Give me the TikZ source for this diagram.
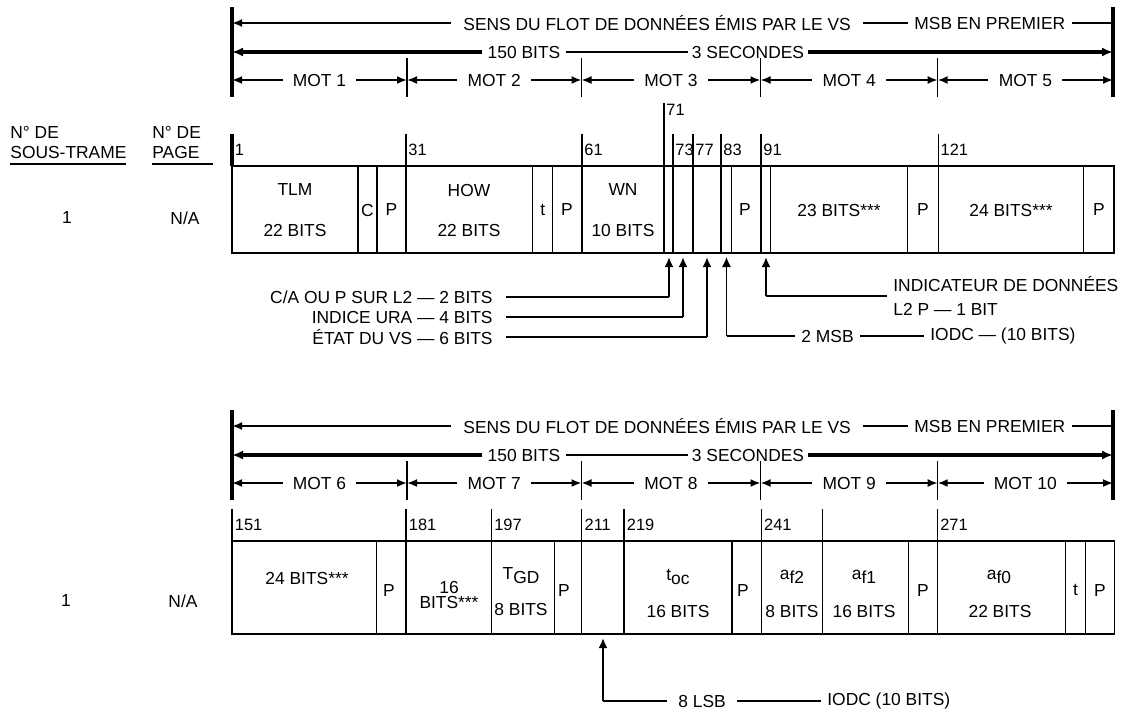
\documentclass[tikz,border=0pt]{standalone}
\usepackage{fontspec}
\setmainfont{Liberation Sans}
\usetikzlibrary{arrows.meta,calc}
\newcommand\fs{\fontsize{8.7}{12}\selectfont}
\newcommand\fsn{\fontsize{8.2}{10}\selectfont}
\newcommand\hdr[3]{%
\begin{scope}[shift={(0,#1)}]
\coordinate (#2t0) at (232,97);
\coordinate (#2t1) at (407,97);
\coordinate (#2t2) at (581.5,97);
\coordinate (#2t3) at (760.5,97);
\coordinate (#2t4) at (937.7,97);
\coordinate (#2t5) at (1113,97);
\coordinate (#2top0) at (232,7);
\coordinate (#2top5) at (1113,7);
\draw[bar] (#2top0) -- (#2t0);
\draw[bar] (#2top5) -- (#2t5);
\foreach \j in {1,...,4} \draw[tick] (#2t\j) -- ++(0,-39);
\node[gtxt,inner xsep=6pt,anchor=west] (#2s1) at (451,23) {SENS DU FLOT DE DONNÉES ÉMIS PAR LE VS};
\node[gtxt,inner xsep=3pt,anchor=west] (#2s2) at (908,23) {MSB EN PREMIER};
\draw[a1] (#2s1.west) -- (#2s1.west -| #2t0);
\draw[thinl] (#2s1.east) -- (#2s2.west);
\draw[thinl] (#2s2.east) -- (#2s2.east -| #2t5);
\node[gtxt,inner xsep=2.5pt] (#2b1) at (524,52) {150 BITS};
\node[gtxt,inner xsep=2pt] (#2b2) at (748,52) {3 SECONDES};
\draw[a2] (#2b1.west) -- (#2b1.west -| #2t0);
\draw[thinl] (#2b1.east) -- (#2b2.west);
\draw[a2] (#2b2.east) -- (#2b2.east -| #2t5);
\foreach \i [evaluate=\i as \wnum using {int(\i+#3)}, evaluate=\i as \pv using {int(\i-1)}] in {1,...,5} {
  \node[gtxt,inner xsep=5pt] (#2w\i) at ($(#2t\pv)!0.5!(#2t\i)+(0,-17)$) {MOT \wnum};
  \draw[a3] (#2w\i.west) -- (#2w\i.west -| #2t\pv);
  \draw[a3] (#2w\i.east) -- (#2w\i.east -| #2t\i);
}
\end{scope}}

\begin{document}
\begin{tikzpicture}[x=0.5pt,y=-0.5pt,
  txt/.style={font=\fs, inner sep=0pt},
  num/.style={font=\fsn, inner sep=0pt, anchor=west},
  gtxt/.style={font=\fs, inner ysep=0pt},
  bar/.style={line width=1.6pt},
  tick/.style={line width=0.65pt},
  grid/.style={line width=0.65pt},
  uline/.style={line width=1.2pt},
  a1/.style={line width=1.1pt, -{Latex[length=5pt,width=4pt]}},
  a2/.style={line width=1.7pt, -{Latex[length=5.5pt,width=4.5pt]}},
  a3/.style={line width=0.9pt, -{Latex[length=5pt,width=4pt]}},
  thinl/.style={line width=0.55pt},
  up/.style={line width=1.3pt, -{Latex[length=5pt,width=4.5pt]}},
  upthin/.style={line width=0.6pt, -{Latex[length=5pt,width=4.5pt]}},
]
\path[use as bounding box] (0,0) rectangle (1125,720);

% ---------- headers ----------
\hdr{0}{A}{0}
\hdr{403}{B}{5}

% ---------- left labels ----------
\node[txt,anchor=west] (lsf1) at (10,132) {N° DE};
\node[txt,anchor=west] (lsf2) at (10,152) {SOUS-TRAME};
\draw[uline] (10,164) -- (126,164);
\node[txt,anchor=west] (lpg1) at (152,132) {N° DE};
\node[txt,anchor=west] (lpg2) at (152,152) {PAGE};
\draw[uline] (152,164) -- (213,164);
\node[txt] (sfA) at (67,218) {1};
\node[txt] (pgA) at (185,218) {N/A};
\node[txt] (sfB) at (66,600) {1};
\node[txt] (pgB) at (183,601) {N/A};

% ---------- upper table ----------
\draw[grid] (232,166) rectangle (1114,253);
\foreach \x in {358,377,532.7,552.7,731.7,770.5,907.7,1083.5}
  \draw[grid] (\x,166) -- (\x,253);
\draw[bar] (232,134) -- (232,166);
\node[num] (uA1) at (234.5,150) {1};
\foreach \l/\x in {31/406,61/582,73/673,77/693,83/721,91/761,121/938.3}{
  \draw[grid] (\x,134) -- (\x,253);
  \node[num] (uA\l) at (\x+2,150) {\l};
}
\draw[grid] (664,103) -- (664,253);
\node[num] (uA71) at (666,110) {71};

\node[txt] (c1) at (295,190) {TLM};
\node[txt] (c1b) at (295,230) {22 BITS};
\node[txt] (c2) at (367.5,210) {C};
\node[txt] (c3) at (391.5,210) {P};
\node[txt] (c4) at (469,190) {HOW};
\node[txt] (c4b) at (469,230) {22 BITS};
\node[txt] (c5) at (542.7,210) {t};
\node[txt] (c6) at (567,210) {P};
\node[txt] (c7) at (623,190) {WN};
\node[txt] (c7b) at (623,230) {10 BITS};
\node[txt] (c8) at (745,210) {P};
\node[txt] (c9) at (839,210) {23 BITS***};
\node[txt] (c10) at (923,210) {P};
\node[txt] (c11) at (1011,210) {24 BITS***};
\node[txt] (c12) at (1099,210) {P};

% ---------- upper annotations ----------
\coordinate (pca) at (669,257);
\coordinate (pura) at (683,257);
\coordinate (petat) at (707,257);
\coordinate (pmsb) at (726.5,257);
\coordinate (pl2) at (766,257);

\node[txt,anchor=east] (nca) at (493,297) {C/A OU P SUR L2 — 2 BITS};
\node[txt,anchor=east] (nura) at (493,317) {INDICE URA — 4 BITS};
\node[txt,anchor=east] (netat) at (493,337) {ÉTAT DU VS — 6 BITS};
\coordinate (kca) at (669,297);
\coordinate (kura) at (683,317);
\coordinate (ketat) at (707,337);
\draw[thinl] ([xshift=6.5pt]nca.east) -- (kca);
\draw[thinl] ([xshift=6.5pt]nura.east) -- (kura);
\draw[thinl] ([xshift=6.5pt]netat.east) -- (ketat);
\draw[up] (kca) -- (pca);
\draw[up] (kura) -- (pura);
\draw[up] (ketat) -- (petat);

\node[txt,anchor=west,align=left,font=\fs,inner xsep=3pt] (nl2) at (887,296) {INDICATEUR DE DONNÉES\\L2 P — 1 BIT};
\coordinate (kl2) at (766,296);
\draw[thinl] (nl2.west) -- (kl2);
\draw[up] (kl2) -- (pl2);

\node[txt,anchor=west,inner xsep=3pt] (nmsb) at (795,336) {2 MSB};
\node[txt,anchor=west,inner xsep=3pt] (niodcA) at (924,336) {IODC — (10 BITS)};
\coordinate (kmsb) at (726.5,336);
\draw[thinl] (nmsb.west) -- (kmsb);
\draw[upthin] (kmsb) -- (pmsb);
\draw[thinl] (nmsb.east) -- (niodcA.west);

% ---------- lower table ----------
\draw[grid] (232,541) rectangle (1114.6,634);
\foreach \x in {376.8,554.3,732,908.3,1065.4,1085.5}
  \draw[grid] (\x,541) -- (\x,634);
\foreach \l/\x in {151/232,181/406,197/491.4,211/581.8,219/624,241/761.3,271/937.4}{
  \draw[grid] (\x,509) -- (\x,634);
  \node[num] (lB\l) at (\x+2.5,525) {\l};
}
\draw[grid] (822.8,509) -- (822.8,634);

\node[txt] (d1) at (307,578) {24 BITS***};
\node[txt] (d2) at (389,590) {P};
\node[txt] (d3) at (449,587) {16};
\node[txt] (d3b) at (449,602) {BITS***};
\node[txt] (d4) at (521,576) {T\raisebox{-0.45ex}{GD}};
\node[txt] (d4b) at (521,609) {8 BITS};
\node[txt] (d5) at (564,590) {P};
\node[txt] (d6) at (678,577) {t\raisebox{-0.45ex}{oc}};
\node[txt] (d6b) at (678,611) {16 BITS};
\node[txt] (d7) at (743,590) {P};
\node[txt] (d8) at (792,577) {a\raisebox{-0.45ex}{f2}};
\node[txt] (d8b) at (792,611) {8 BITS};
\node[txt] (d9) at (864,577) {a\raisebox{-0.45ex}{f1}};
\node[txt] (d9b) at (864,611) {16 BITS};
\node[txt] (d10) at (923,590) {P};
\node[txt] (d11) at (999,577) {a\raisebox{-0.45ex}{f0}};
\node[txt] (d11b) at (1000,611) {22 BITS};
\node[txt] (d12) at (1075.5,590) {t};
\node[txt] (d13) at (1100,590) {P};

% ---------- lower annotation ----------
\coordinate (plsb) at (603,638);
\coordinate (klsb) at (603,701);
\node[txt,anchor=west,inner xsep=5.5pt] (nlsb) at (667,701) {8 LSB};
\node[txt,anchor=west,inner xsep=3pt] (niodcB) at (821,701) {IODC (10 BITS)};
\draw[thinl] (nlsb.west) -- (klsb);
\draw[up] (klsb) -- (plsb);
\draw[thinl] (nlsb.east) -- (niodcB.west);
\end{tikzpicture}
\end{document}
